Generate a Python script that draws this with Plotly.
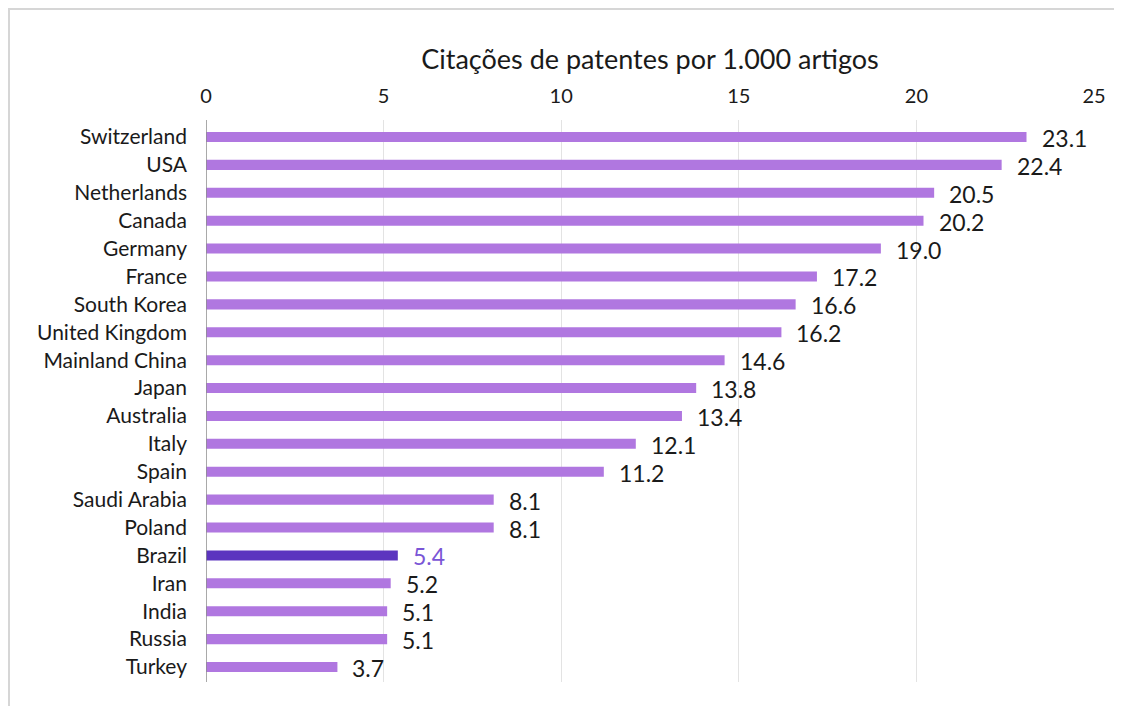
import plotly.graph_objects as go

countries = ["Switzerland", "USA", "Netherlands", "Canada", "Germany", "France",
             "South Korea", "United Kingdom", "Mainland China", "Japan", "Australia",
             "Italy", "Spain", "Saudi Arabia", "Poland", "Brazil", "Iran", "India",
             "Russia", "Turkey"]
values = [23.1, 22.4, 20.5, 20.2, 19.0, 17.2, 16.6, 16.2, 14.6, 13.8, 13.4,
          12.1, 11.2, 8.1, 8.1, 5.4, 5.2, 5.1, 5.1, 3.7]
highlight = "Brazil"
title = "Citações de patentes por 1.000 artigos"

FONT = "Lato"
TXT = "#1a1a1a"
bar_colors = ["#5c35bf" if c == highlight else "#b077e0" for c in countries]
label_colors = ["#7a55d6" if c == highlight else TXT for c in countries]

L, R, T, B = 198, 36, 112, 32
W, H = 1122, 706
pw, ph = W - L - R, H - T - B

fig = go.Figure(go.Bar(
    x=values, y=countries, orientation="h",
    marker=dict(color=bar_colors, line=dict(width=0)),
    width=0.36, hoverinfo="x+y",
))

for c, v, col in zip(countries, values, label_colors):
    fig.add_annotation(x=v, y=c, text=f"{v:.1f}", showarrow=False,
                       xanchor="left", yanchor="middle", xshift=13, yshift=-1,
                       font=dict(family=FONT, size=23, color=col))

fig.update_layout(
    width=W, height=H,
    margin=dict(l=L, r=R, t=T, b=B),
    paper_bgcolor="white", plot_bgcolor="white",
    showlegend=False,
    xaxis=dict(side="top", range=[0, 25], dtick=5, tick0=0,
               showgrid=True, gridcolor="#e3e3e3", gridwidth=1,
               zeroline=False, showline=False, ticks="",
               ticklabelstandoff=12,
               tickfont=dict(family=FONT, size=20, color=TXT),
               title=dict(text=title, font=dict(family=FONT, size=27, color=TXT),
                          standoff=5)),
    yaxis=dict(autorange="reversed", showgrid=False, zeroline=False,
               showline=False, ticks="", ticklabelstandoff=18,
               tickfont=dict(family=FONT, size=21, color=TXT)),
    shapes=[
        dict(type="line", xref="x", yref="paper", x0=0, x1=0, y0=0, y1=1,
             line=dict(color="#8c8c8c", width=1.5)),
        dict(type="line", xref="paper", yref="paper", x0=-L / pw, x1=(W - L) / pw,
             y0=1 + (T - 1) / ph, y1=1 + (T - 1) / ph, line=dict(color="#d6d6d6", width=2)),
        dict(type="line", xref="paper", yref="paper", x0=(1 - L) / pw, x1=(1 - L) / pw,
             y0=1 + T / ph, y1=-B / ph, line=dict(color="#d6d6d6", width=2)),
    ],
)

fig.write_html("out.html")
